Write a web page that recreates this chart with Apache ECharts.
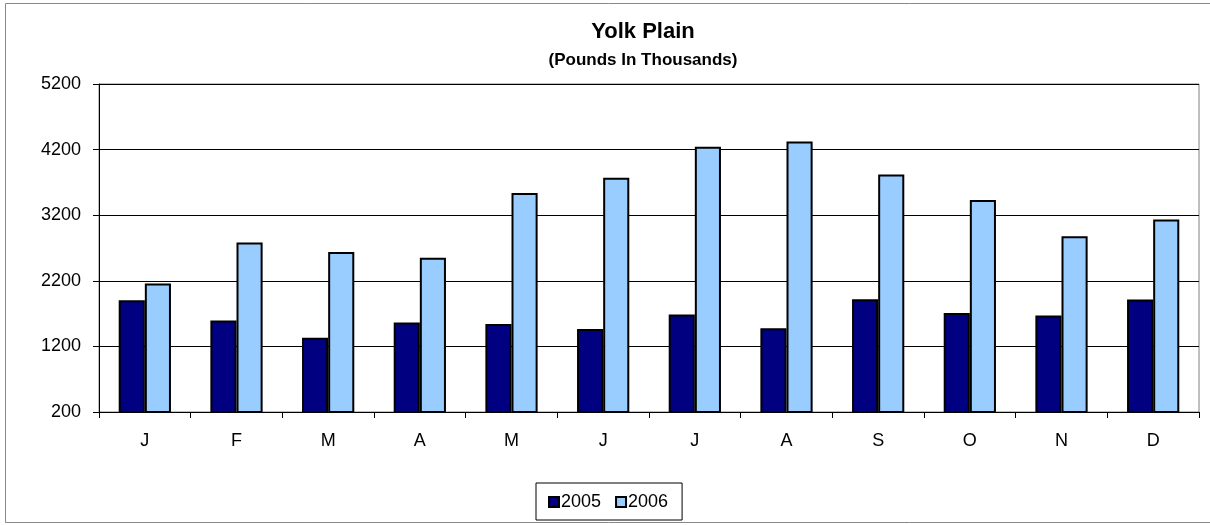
<!DOCTYPE html>
<html>
<head>
<meta charset="utf-8">
<script src="https://cdn.jsdelivr.net/npm/echarts@6/dist/echarts.min.js"></script>
<style>
html,body{margin:0;padding:0;background:#fff;}
#chart{width:1210px;height:525px;}
</style>
</head>
<body>
<div id="chart"></div>
<script>
var categories = ['J','F','M','A','M','J','J','A','S','O','N','D'];
var values2005 = [1905, 1595, 1330, 1565, 1540, 1465, 1685, 1475, 1920, 1710, 1670, 1915];
var values2006 = [2160, 2785, 2640, 2550, 3540, 3770, 4245, 4325, 3820, 3430, 2880, 3135];
var seriesNames = ['2005', '2006'];
var yTicks = [200, 1200, 2200, 3200, 4200, 5200];

var FONT = 'Liberation Sans, Arial, sans-serif';
var chart = echarts.init(document.getElementById('chart'), null, {renderer: 'canvas'});
chart.setOption({
  animation: false,
  backgroundColor: '#ffffff',
  title: [{
    text: 'Yolk Plain',
    left: 638, top: 16, textAlign: 'center',
    textStyle: {fontFamily: FONT, fontWeight: 'bold', fontSize: 22, color: '#000'}
  }, {
    text: '(Pounds In Thousands)',
    left: 638, top: 47, textAlign: 'center',
    textStyle: {fontFamily: FONT, fontWeight: 'bold', fontSize: 17, color: '#000'}
  }],
  graphic: [{
    type: 'rect', silent: true, z: -1,
    shape: {x: 5.5, y: 3.5, width: 1210, height: 519},
    style: {fill: null, stroke: '#888', lineWidth: 1}
  }],
  legend: {
    data: seriesNames,
    left: 536, top: 483,
    orient: 'horizontal',
    icon: 'rect', itemWidth: 10, itemHeight: 10, itemGap: 14,
    borderColor: '#000', borderWidth: 1,
    padding: [10, 14, 9, 12],
    textStyle: {fontFamily: FONT, fontSize: 18, color: '#000', padding: [0, 0, 0, -3]}
  },
  grid: {
    left: 99, right: 11, top: 84, bottom: 113,
    show: true, borderColor: '#808080', borderWidth: 1, backgroundColor: '#fff'
  },
  xAxis: {
    type: 'category',
    data: categories,
    axisLine: {lineStyle: {color: '#000', width: 1}},
    axisTick: {show: true, alignWithLabel: false, length: 6, lineStyle: {color: '#000'}},
    axisLabel: {fontFamily: FONT, fontSize: 18, color: '#000', margin: 20}
  },
  yAxis: {
    type: 'value',
    min: yTicks[0], max: yTicks[yTicks.length - 1], interval: 1000,
    axisLine: {show: true, lineStyle: {color: '#000', width: 1}},
    axisTick: {show: true, length: 6, lineStyle: {color: '#000'}},
    axisLabel: {fontFamily: FONT, fontSize: 18, color: '#000', margin: 18,
      formatter: function (v) { return String(v); }},
    splitLine: {show: true, lineStyle: {color: '#000', width: 1}}
  },
  series: [{
    name: seriesNames[0], type: 'bar', data: values2005,
    barGap: '0%', barCategoryGap: '43%',
    itemStyle: {color: '#000080', borderColor: '#000', borderWidth: 2}
  }, {
    name: seriesNames[1], type: 'bar', data: values2006,
    barGap: '0%', barCategoryGap: '43%',
    itemStyle: {color: '#99CCFF', borderColor: '#000', borderWidth: 2}
  }]
});
</script>
</body>
</html>
